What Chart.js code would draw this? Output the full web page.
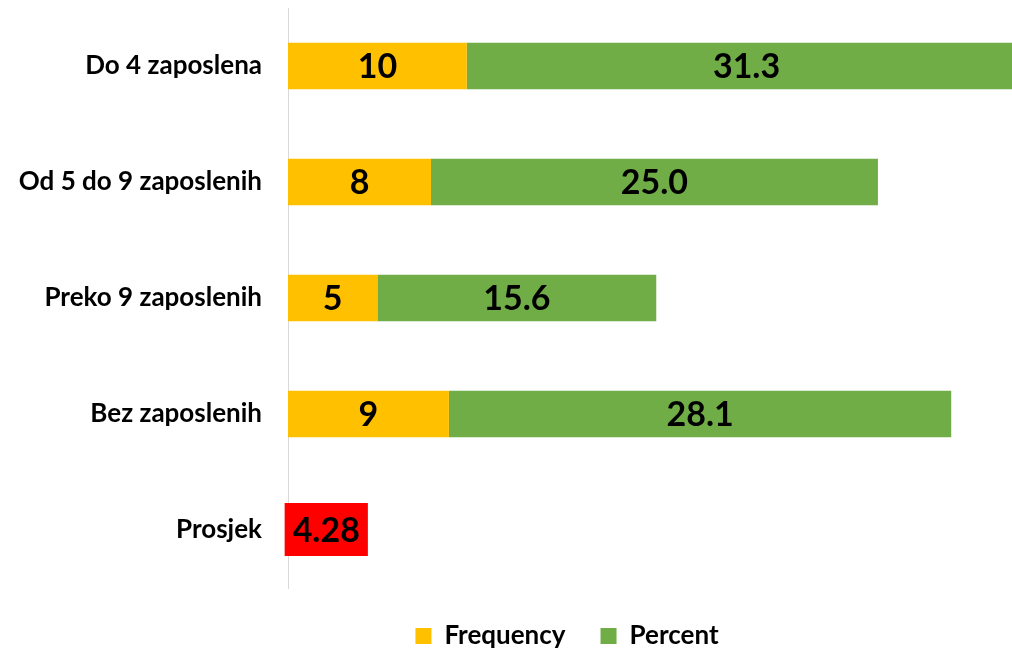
<!DOCTYPE html>
<html>
<head>
<meta charset="utf-8">
<script src="https://cdn.jsdelivr.net/npm/chart.js@4/dist/chart.umd.min.js"></script>
<style>
  html, body { margin: 0; padding: 0; background: #fff; }
  #wrap { width: 1012px; height: 653px; }
</style>
</head>
<body>
<div id="wrap"><canvas id="chart"></canvas></div>
<script>
// podaci s grafa
const categories = ["Do 4 zaposlena", "Od 5 do 9 zaposlenih", "Preko 9 zaposlenih", "Bez zaposlenih", "Prosjek"];
const frequency = [10, 8, 5, 9, 4.28];
const percent = [31.3, 25.0, 15.6, 28.1, null];
const seriesNames = ["Frequency", "Percent"];

const FONT = "Lato, 'Open Sans', sans-serif";
const avgIndex = categories.indexOf("Prosjek");

// natpisi vrijednosti u sredini stupaca (+ crvena pozadina za prosjek)
const valueLabels = {
  id: "valueLabels",
  afterLayout(chart) {
    // da se dugi nazivi kategorija ne odrežu na rubu osi
    chart.scales.y.left = 0;
  },
  afterDatasetsDraw(chart) {
    const ctx = chart.ctx;
    ctx.save();
    ctx.font = "bold 34px " + FONT;
    ctx.textAlign = "center";
    ctx.textBaseline = "middle";
    chart.data.datasets.forEach((ds, di) => {
      const meta = chart.getDatasetMeta(di);
      meta.data.forEach((bar, i) => {
        const v = ds.data[i];
        if (v === null || v === undefined) return;
        const txt = di === 1 ? v.toFixed(1) : String(v);
        const { x, y } = bar.getCenterPoint();
        if (di === 0 && i === avgIndex) {
          const w = ctx.measureText(txt).width + 16;
          ctx.fillStyle = "#FF0000";
          ctx.fillRect(x - w / 2, y - 27, w, 53);
        }
        ctx.fillStyle = "#000";
        ctx.fillText(txt, x, y + 1);
      });
    });
    ctx.restore();
  }
};

new Chart(document.getElementById("chart"), {
  type: "bar",
  data: {
    labels: categories,
    datasets: [
      {
        label: seriesNames[0],
        data: frequency,
        backgroundColor: categories.map((c, i) => (i === avgIndex ? "#FF0000" : "#FFC000")),
        barPercentage: 0.4,
        categoryPercentage: 1
      },
      {
        label: seriesNames[1],
        data: percent,
        backgroundColor: "#70AD47",
        barPercentage: 0.4,
        categoryPercentage: 1
      }
    ]
  },
  options: {
    indexAxis: "y",
    responsive: true,
    maintainAspectRatio: false,
    animation: false,
    layout: { padding: { top: 8, left: 122, right: 0, bottom: -6 } },
    scales: {
      x: { stacked: true, display: false, min: 0, max: 40.5 },
      y: {
        stacked: true,
        grid: { display: false, drawTicks: false },
        border: { display: true, color: "#D9D9D9", width: 1 },
        ticks: { color: "#000", padding: 26, font: { family: FONT, size: 26, weight: "bold" } },
        afterFit(scale) {
          scale.width = 166;
          scale.paddingTop = 0;
          scale.paddingBottom = 0;
        }
      }
    },
    plugins: {
      legend: {
        position: "bottom",
        labels: {
          color: "#000",
          boxWidth: 16,
          boxHeight: 16,
          padding: 35,
          font: { family: FONT, size: 26, weight: "bold" },
          generateLabels(chart) {
            return chart.data.datasets.map((ds, i) => ({
              text: ds.label,
              fillStyle: i === 0 ? "#FFC000" : "#70AD47",
              strokeStyle: "rgba(0,0,0,0)",
              lineWidth: 0,
              datasetIndex: i
            }));
          }
        }
      },
      tooltip: { enabled: false }
    }
  },
  plugins: [valueLabels]
});
</script>
</body>
</html>
